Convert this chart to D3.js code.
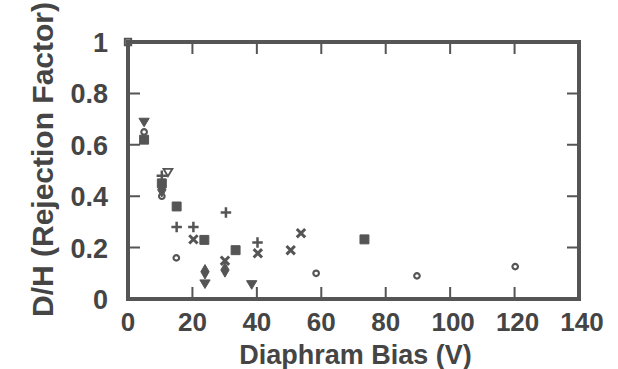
<!DOCTYPE html>
<html>
<head>
<meta charset="utf-8">
<script src="https://cdnjs.cloudflare.com/ajax/libs/d3/7.8.5/d3.min.js"></script>
<style>
  body { margin: 0; background: #fff; }
  text { font-family: "Liberation Sans", Arial, sans-serif; font-weight: bold; fill: #454545; }
</style>
</head>
<body>
<div id="chart"></div>
<script>
// data: [bias (V), D/H]
var openCircle   = [[5, 0.65], [10.5, 0.40], [15, 0.16], [58.4, 0.10], [89.7, 0.09], [120.2, 0.126]];
var filledSquare = [[5, 0.62], [10.5, 0.45], [15.1, 0.36], [23.7, 0.23], [33.4, 0.19], [73.4, 0.232]];
var plusPts      = [[10.5, 0.48], [15.1, 0.28], [20.3, 0.28], [30.4, 0.337], [40.2, 0.22]];
var crossPts     = [[20.3, 0.232], [30.1, 0.149], [40.3, 0.178], [50.5, 0.19], [53.7, 0.256]];
var filledDiamond= [[10.5, 0.425], [23.9, 0.106], [30.1, 0.113]];
var filledTriDown= [[5, 0.69], [23.9, 0.061], [38.4, 0.058]];
var openTriDown  = [[12.4, 0.495]];
var openSquare   = [[0, 1.0]];

var xTicks = [0, 20, 40, 60, 80, 100, 120, 140];
var yTicks = [0, 0.2, 0.4, 0.6, 0.8, 1];

var W = 618, H = 369;
var margin = {left: 128, right: 39, top: 42, bottom: 70};
var innerW = W - margin.left - margin.right,
    innerH = H - margin.top - margin.bottom;
var grey = "#555";

var svg = d3.select("#chart").append("svg")
  .attr("width", W).attr("height", H);
var g = svg.append("g")
  .attr("transform", "translate(" + margin.left + "," + margin.top + ")");

var x = d3.scaleLinear().domain([0, 140]).range([0, innerW]);
var y = d3.scaleLinear().domain([0, 1]).range([innerH, 0]);

// inward ticks on all four sides
var tickLen = 12;
g.selectAll(".xt").data(xTicks.slice(1, -1)).enter().append("path")
  .attr("d", function(d) { return "M" + x(d) + "," + innerH + "v" + (-tickLen) + "M" + x(d) + ",0v" + tickLen; })
  .attr("stroke", grey).attr("stroke-width", 2);
g.selectAll(".yt").data(yTicks.slice(1, -1)).enter().append("path")
  .attr("d", function(d) { return "M0," + y(d) + "h" + tickLen + "M" + innerW + "," + y(d) + "h" + (-tickLen); })
  .attr("stroke", grey).attr("stroke-width", 2);

// frame
g.append("rect")
  .attr("width", innerW).attr("height", innerH)
  .attr("fill", "none").attr("stroke", grey).attr("stroke-width", 4);

// tick labels
g.selectAll(".xl").data(xTicks).enter().append("text")
  .attr("x", function(d) { return x(d) + (d >= 100 ? 3 : 0); })
  .attr("y", innerH + 32)
  .attr("text-anchor", "middle")
  .style("font-size", "26px")
  .text(function(d) { return d; });
g.selectAll(".yl").data(yTicks).enter().append("text")
  .attr("x", -20)
  .attr("y", function(d) { return y(d) + 10; })
  .attr("text-anchor", "end")
  .style("font-size", "27px")
  .text(function(d) { return d; });

// axis titles
g.append("text")
  .attr("x", innerW / 2 + 2).attr("y", innerH + 65)
  .attr("text-anchor", "middle")
  .style("font-size", "27px")
  .text("Diaphram Bias (V)");
g.append("text")
  .attr("transform", "translate(" + (-75) + "," + (innerH / 2 - 11) + ") rotate(-90)")
  .attr("text-anchor", "middle")
  .style("font-size", "30px")
  .text("D/H (Rejection Factor)");

// markers
function plot(data, type, size, filled, sw) {
  g.selectAll(null).data(data).enter().append("path")
    .attr("transform", function(d) { return "translate(" + x(d[0]) + "," + y(d[1]) + ")"; })
    .attr("d", d3.symbol().type(type).size(size))
    .attr("fill", filled ? grey : "none")
    .attr("stroke", grey)
    .attr("stroke-width", sw);
}
var triDown = {
  draw: function(ctx, size) {
    var s = Math.sqrt(size) * 1.15;
    ctx.moveTo(-s / 2, -s / 3);
    ctx.lineTo(s / 2, -s / 3);
    ctx.lineTo(0, s * 0.5);
    ctx.closePath();
  }
};
var xMark = {
  draw: function(ctx, size) {
    var s = Math.sqrt(size) / 2;
    ctx.moveTo(-s, -s); ctx.lineTo(s, s);
    ctx.moveTo(s, -s); ctx.lineTo(-s, s);
  }
};
var plusMark = {
  draw: function(ctx, size) {
    var s = Math.sqrt(size) / 2;
    ctx.moveTo(-s, 0); ctx.lineTo(s, 0);
    ctx.moveTo(0, -s); ctx.lineTo(0, s);
  }
};

plot(openSquare, d3.symbolSquare, 40, false, 2);
plot(openCircle, d3.symbolCircle, 24, false, 2.2);
plot(filledSquare, d3.symbolSquare, 80, true, 1);
plot(plusPts, plusMark, 110, false, 2.5);
plot(crossPts, xMark, 70, false, 3);
plot(filledDiamond, d3.symbolDiamond, 60, true, 1);
plot(filledTriDown, triDown, 80, true, 1);
plot(openTriDown, triDown, 60, false, 1.8);
</script>
</body>
</html>
